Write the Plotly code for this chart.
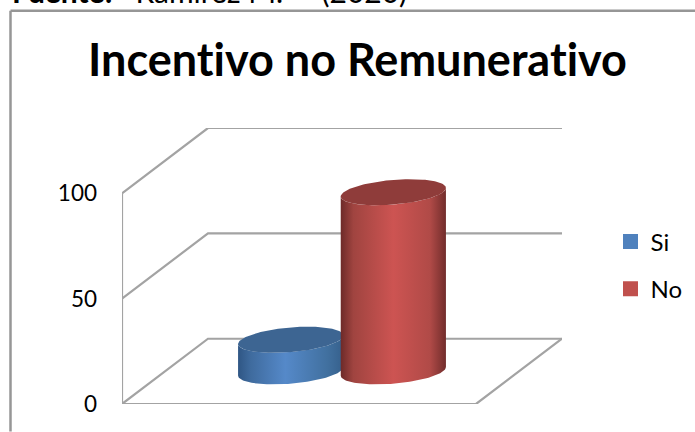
import numpy as np
import plotly.graph_objects as go

series = ['Si', 'No']
values = [15, 85]
swatch_colors = ['#4f81bd', '#c0504d']
top_colors = ['#3d6592', '#8f3c3a']
side_scales = [
    [[0, '#2f5684'], [0.12, '#3f6b9e'], [0.45, '#5589c9'], [0.85, '#41709f'], [1, '#36608c']],
    [[0, '#6d2a29'], [0.12, '#a04440'], [0.5, '#cd5452'], [0.85, '#b04a47'], [1, '#722d2c']],
]
y_ticks = [0, 50, 100]

# oblique projection of the 3d box, in axis units
depth_x = 0.2429
depth_y = 30.97
bar_offset = [-0.145, 0.145]
radius_x = 0.1404
radius_d = 0.2
grid_color = '#a3a3a3'
frame_color = '#969696'


def project(x, v, d):
    return x + depth_x * d, v + depth_y * d


def ellipse(center, v):
    t = np.linspace(0, 2 * np.pi, 121)
    return project(center + radius_x * np.cos(t), v, 0.5 + radius_d * np.sin(t))


def side(center, v):
    # outline of the cylinder wall: bottom arc from the left tangent to the right one, back over the top
    tangent = np.arctan2(depth_x * radius_d, radius_x)
    t = np.linspace(np.pi + tangent, 2 * np.pi + tangent, 61)
    bx, by = project(center + radius_x * np.cos(t), 0, 0.5 + radius_d * np.sin(t))
    tx, ty = project(center + radius_x * np.cos(t[::-1]), v, 0.5 + radius_d * np.sin(t[::-1]))
    return np.concatenate([bx, tx, bx[:1]]), np.concatenate([by, ty, by[:1]])


fig = go.Figure()

# walls and floor
for v in y_ticks:
    gx, gy = zip(project(0, v, 0), project(0, v, 1), project(1, v, 1))
    fig.add_trace(go.Scatter(x=gx, y=gy, mode='lines', line=dict(color=grid_color, width=2.2),
                             showlegend=False, hoverinfo='skip', cliponaxis=False))
fx, fy = zip(project(0, 0, 0), project(1, 0, 0), project(1, 0, 1))
fig.add_trace(go.Scatter(x=fx, y=fy, mode='lines', line=dict(color=grid_color, width=2.2),
                         showlegend=False, hoverinfo='skip', cliponaxis=False))
fig.add_trace(go.Scatter(x=[0, 0], y=[0, y_ticks[-1]], mode='lines', line=dict(color=grid_color, width=2.2),
                         showlegend=False, hoverinfo='skip', cliponaxis=False))

for i, name in enumerate(series):
    cx = 0.5 + bar_offset[i]
    sx, sy = side(cx, values[i])
    fig.add_trace(go.Scatter(x=sx, y=sy, mode='lines', line=dict(width=0), fill='toself',
                             fillgradient=dict(type='horizontal', colorscale=side_scales[i]),
                             showlegend=False, hoverinfo='skip', cliponaxis=False))
    ex, ey = ellipse(cx, values[i])
    fig.add_trace(go.Scatter(x=ex, y=ey, mode='lines', line=dict(width=0), fill='toself',
                             fillcolor=top_colors[i],
                             showlegend=False, hoverinfo='skip', cliponaxis=False))
    fig.add_trace(go.Scatter(x=[None], y=[None], mode='markers', name=name, legendgroup=name,
                             marker=dict(symbol='square', size=15, color=swatch_colors[i])))

fig.update_layout(
    width=695,
    height=432,
    autosize=False,
    paper_bgcolor='white',
    plot_bgcolor='white',
    margin=dict(l=122, r=133, t=127.5, b=27.5),
    font=dict(family='Lato', color='black'),
    title=dict(text='<b>Incentivo no Remunerativo</b>', x=357.5 / 695, y=1 - 60 / 432,
               xanchor='center', yanchor='middle', font=dict(size=45, family='Lato', color='black')),
    xaxis=dict(range=[0, 1 + depth_x], visible=False),
    yaxis=dict(range=[0, 100 + depth_y], tickvals=y_ticks, showgrid=False, zeroline=False,
               showline=False, ticks='', ticklabelstandoff=24, tickfont=dict(size=22.5, family='Lato')),
    legend=dict(x=610.5 / 695, y=1 - 265.5 / 432, xref='container', yref='container', xanchor='left',
                yanchor='middle', tracegroupgap=13, font=dict(size=24, family='Lato'), itemclick=False),
    shapes=[
        dict(type='line', xref='paper', yref='paper', x0=(10.5 - 122) / 440, x1=(695 - 122) / 440,
             y0=(404.5 - 9.7) / 277, y1=(404.5 - 9.7) / 277, line=dict(color=frame_color, width=2.5)),
        dict(type='line', xref='paper', yref='paper', x0=(10.5 - 122) / 440, x1=(10.5 - 122) / 440,
             y0=(404.5 - 9.7) / 277, y1=(404.5 - 432) / 277, line=dict(color=frame_color, width=2.5)),
    ],
    annotations=[
        dict(text='<b>Fuente:</b>\u00a0\u00a0 Ramirez M.\u00a0\u00a0\u00a0\u00a0 (2020)', xref='paper', yref='paper',
             x=(10 - 122) / 440, y=(404.5 - 10) / 277, xanchor='left', yanchor='bottom', showarrow=False,
             font=dict(size=30, family='Lato', color='black')),
    ],
)

# the page margin would shift the figure; ligatures are off because the reference has none
fig.write_html("out.html", config=dict(displayModeBar=False), post_script=(
    "document.body.style.margin='0';"
    "var s=document.createElement('style');"
    "s.textContent='text{font-variant-ligatures:none !important}';"
    "document.head.appendChild(s);"
))
